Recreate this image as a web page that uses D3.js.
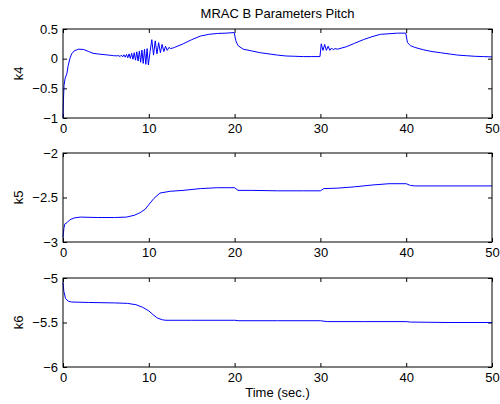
<!DOCTYPE html>
<html>
<head>
  <meta charset="UTF-8">
	<style>
	body {
		margin: 0;
		background: white;
	}
	svg text {
		font-family: 'Liberation Sans', Arial, sans-serif;
		font-size: 13px;
		fill: black;
	}
	.frame {
		fill: none;
		stroke: black;
		stroke-width: 1px;
	}
	.axis path {
		display: none;
	}
	.axis line {
		stroke: black;
		stroke-width: 1px;
	}
	.trace {
		fill: none;
		stroke: #0000ff;
		stroke-width: 1px;
	}
	</style>
</head>
<body>
<script src="https://d3js.org/d3.v7.min.js"></script>
<script>
	// values
	let xTicks = [0, 10, 20, 30, 40, 50];

	let k4Time = [0, 0.05, 0.12, 0.25, 0.45, 0.6, 0.8, 1.0, 1.3, 1.8, 2.4, 3.0, 3.5, 4.3, 5.0, 5.3, 5.6, 5.9, 6.2,
		6.5, 6.65, 6.8, 6.95, 7.1, 7.25, 7.4, 7.55, 7.7, 7.85, 8.0, 8.15, 8.3, 8.45, 8.6, 8.75, 8.9, 9.05, 9.2, 9.35, 9.5, 9.65, 9.8, 9.95,
		10.15, 10.35, 10.55, 10.75, 10.95, 11.15, 11.35, 11.55, 11.75, 11.95, 12.15, 12.35, 12.55, 12.8,
		13, 14, 15, 16, 17, 18, 19, 19.95,
		20.15, 20.4, 21, 22, 23, 24, 25, 26, 27, 28, 29, 29.95,
		30.1, 30.3, 30.5, 30.7, 30.9, 31.1, 31.3, 31.5, 31.7, 32,
		33, 34, 35, 36, 37, 38, 39, 39.95,
		40.15, 40.5, 41, 42, 43, 44, 45, 46, 47, 48, 49, 50];
	let k4Vals = [-1, -0.7, -0.45, -0.33, -0.25, -0.12, 0.0, 0.08, 0.13, 0.16, 0.155, 0.12, 0.09, 0.075, 0.065, 0.06, 0.055, 0.05, 0.048,
		0.05, 0.035, 0.06, 0.03, 0.065, 0.025, 0.07, 0.015, 0.08, 0.005, 0.09, -0.01, 0.1, -0.025, 0.115, -0.04, 0.13, -0.06, 0.145, -0.08, 0.16, -0.095, 0.17, -0.105,
		0.12, 0.32, 0.06, 0.3, 0.08, 0.27, 0.1, 0.24, 0.12, 0.21, 0.14, 0.19, 0.17, 0.18,
		0.19, 0.25, 0.32, 0.38, 0.41, 0.425, 0.43, 0.44,
		0.3, 0.22, 0.16, 0.13, 0.1, 0.08, 0.06, 0.045, 0.04, 0.035, 0.035, 0.035,
		0.25, 0.14, 0.24, 0.14, 0.21, 0.14, 0.18, 0.15, 0.17, 0.16,
		0.2, 0.26, 0.32, 0.37, 0.41, 0.42, 0.43, 0.43,
		0.27, 0.22, 0.19, 0.15, 0.12, 0.1, 0.08, 0.06, 0.05, 0.04, 0.035, 0.03];

	let k5Time = [0, 0.1, 0.2, 0.5, 0.8, 1.3, 2, 4, 6, 7.4, 8.3, 9, 9.6, 10, 10.6, 11.3, 12.5, 14, 16, 18, 20, 20.4, 22, 25, 28, 30, 30.4, 32, 34, 36, 38, 40, 40.5, 41, 45, 50];
	let k5Vals = [-2.95, -2.85, -2.8, -2.78, -2.75, -2.73, -2.72, -2.725, -2.725, -2.72, -2.7, -2.67, -2.63, -2.58, -2.51, -2.45, -2.43, -2.42, -2.4, -2.39, -2.39, -2.42, -2.42, -2.425, -2.425, -2.425, -2.4, -2.395, -2.38, -2.36, -2.345, -2.345, -2.365, -2.37, -2.37, -2.37];

	let k6Time = [0, 0.1, 0.3, 0.6, 1, 3, 6, 7.5, 8.5, 9.3, 10, 10.6, 11, 11.6, 12, 15, 20, 20.5, 25, 30, 30.8, 35, 40, 40.5, 45, 50];
	let k6Vals = [-5.05, -5.15, -5.23, -5.26, -5.27, -5.275, -5.28, -5.285, -5.3, -5.33, -5.37, -5.42, -5.45, -5.47, -5.475, -5.475, -5.475, -5.48, -5.48, -5.48, -5.49, -5.49, -5.49, -5.495, -5.5, -5.5];

	let panels = [
		{name: "k4", time: k4Time, vals: k4Vals, domain: [-1, 0.5], ticks: [-1, -0.5, 0, 0.5], top: 29},
		{name: "k5", time: k5Time, vals: k5Vals, domain: [-3, -2], ticks: [-3, -2.5, -2], top: 153},
		{name: "k6", time: k6Time, vals: k6Vals, domain: [-6, -5], ticks: [-6, -5.5, -5], top: 278}
	];

	let width = 500,
		height = 404;
	let left = 63, right = 492, plotH = 89;

	let svg = d3.select("body").append("svg")
		.attr("width", width)
		.attr("height", height);

	let x = d3.scaleLinear().domain([0, 50]).range([left, right]);

	// matlab style minus sign
	let fmt = d => (d < 0 ? "\u2212" : "") + Math.abs(d);

	panels.forEach(p => {
		let y = d3.scaleLinear().domain(p.domain).range([p.top + plotH, p.top]);
		let g = svg.append("g");

		g.append("g")
			.attr("class", "axis")
			.attr("transform", "translate(0," + (p.top + plotH) + ")")
			.call(d3.axisBottom(x).tickValues(xTicks).tickSize(-4).tickPadding(6).tickFormat(fmt))
			.selectAll("text").attr("font-size", null);

		g.append("g")
			.attr("class", "axis")
			.attr("transform", "translate(0," + p.top + ")")
			.call(d3.axisTop(x).tickValues(xTicks).tickSize(-4).tickFormat(""));

		g.append("g")
			.attr("class", "axis")
			.attr("transform", "translate(" + left + ",0)")
			.call(d3.axisLeft(y).tickValues(p.ticks).tickSize(-4).tickPadding(5).tickFormat(fmt));

		g.append("g")
			.attr("class", "axis")
			.attr("transform", "translate(" + right + ",0)")
			.call(d3.axisRight(y).tickValues(p.ticks).tickSize(-4).tickFormat(""));

		g.selectAll(".axis text")
			.attr("font-family", null)
			.attr("font-size", null);

		let line = d3.line()
			.x((d, i) => x(p.time[i]))
			.y(d => y(d));

		g.append("path")
			.attr("class", "trace")
			.attr("d", line(p.vals));

		g.append("rect")
			.attr("class", "frame")
			.attr("x", left)
			.attr("y", p.top)
			.attr("width", right - left)
			.attr("height", plotH);

		g.append("text")
			.attr("transform", "translate(23," + (p.top + plotH / 2) + ") rotate(-90)")
			.attr("text-anchor", "middle")
			.text(p.name);
	});

	svg.append("text")
		.attr("x", (left + right) / 2)
		.attr("y", 17.5)
		.attr("text-anchor", "middle")
		.text("MRAC B Parameters Pitch");

	svg.append("text")
		.attr("x", (left + right) / 2)
		.attr("y", 397)
		.attr("text-anchor", "middle")
		.text("Time (sec.)");
</script>
</body>
</html>
